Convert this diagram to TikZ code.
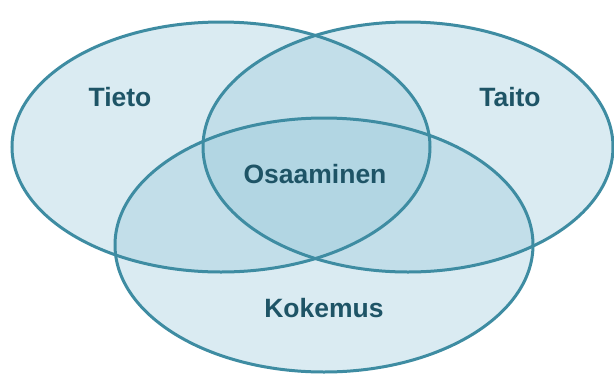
\documentclass[tikz,border=0pt]{standalone}
\usepackage{fontspec}
\setmainfont{Liberation Sans}
\definecolor{vfill}{RGB}{150,200,218}
\definecolor{vline}{RGB}{62,140,162}
\definecolor{vtext}{RGB}{30,84,102}
\begin{document}
\begin{tikzpicture}[x=1pt,y=-1pt,
  setfill/.style={fill=vfill,fill opacity=0.35},
  setline/.style={draw=vline,line width=3pt},
  setlabel/.style={text=vtext,font=\fontsize{26.5}{30}\selectfont\bfseries}]
\useasboundingbox (0,0) rectangle (614,376);
\fill[white] (0,0) rectangle (614,376);
% fills
\path[setfill] (221,147) ellipse [x radius=209, y radius=125];
\path[setfill] (408,147) ellipse [x radius=205, y radius=125];
\path[setfill] (324,245) ellipse [x radius=209, y radius=127];
% outlines
\draw[setline] (221,147) ellipse [x radius=209, y radius=125];
\draw[setline] (408,147) ellipse [x radius=205, y radius=125];
\draw[setline] (324,245) ellipse [x radius=209, y radius=127];
% labels
\node[setlabel] (tieto) at (120,97) {Tieto};
\node[setlabel] (taito) at (510,97) {Taito};
\node[setlabel] (osaaminen) at (315,174) {Osaaminen};
\node[setlabel] (kokemus) at (324,308) {Kokemus};
\end{tikzpicture}
\end{document}
